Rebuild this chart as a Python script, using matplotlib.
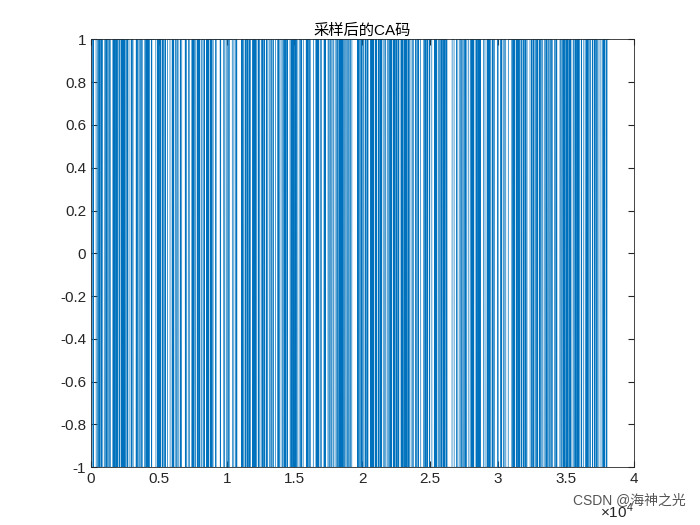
import matplotlib
matplotlib.use("Agg")
import matplotlib.pyplot as plt
import numpy as np

plt.rcParams["font.family"] = ["Liberation Sans", "Noto Sans CJK SC", "DejaVu Sans"]
plt.rcParams["mathtext.fontset"] = "custom"
plt.rcParams["mathtext.rm"] = "Liberation Sans"

# GPS C/A code, PRN 1 (G2 taps 2 and 6), 1023 chips
prn_taps = (2, 6)
n_chips = 1023
# sampling: 38192 samples over one code period
n_samples = 38192

g1 = [1] * 10
g2 = [1] * 10
chips = []
for _ in range(n_chips):
    out = g1[9] ^ (g2[prn_taps[0] - 1] ^ g2[prn_taps[1] - 1])
    chips.append(1 - 2 * out)
    fb1 = g1[2] ^ g1[9]
    fb2 = g2[1] ^ g2[2] ^ g2[5] ^ g2[7] ^ g2[8] ^ g2[9]
    g1 = [fb1] + g1[:9]
    g2 = [fb2] + g2[:9]
chips = np.array(chips)

idx = (np.arange(n_samples) * n_chips // n_samples)
sampled = chips[idx]
x = np.arange(1, n_samples + 1)

fig = plt.figure(figsize=(7, 5.25), dpi=100)
ax = fig.add_axes([0.13, 0.11, 0.775, 0.815])
ax.plot(x, sampled, color="#0072BD", linewidth=0.5)
ax.set_xlim(0, 40000)
ax.set_ylim(-1, 1)
ax.set_xticks(np.arange(0, 40001, 5000))
ax.set_xticklabels(["0", "0.5", "1", "1.5", "2", "2.5", "3", "3.5", "4"])
ax.set_yticks(np.arange(-1, 1.01, 0.2))
ax.set_yticklabels(["-1", "-0.8", "-0.6", "-0.4", "-0.2", "0", "0.2", "0.4", "0.6", "0.8", "1"])
ax.tick_params(direction="in", top=True, right=True, labelsize=11, length=4, colors="#262626")
for s in ax.spines.values():
    s.set_color("#262626")
    s.set_linewidth(0.6)
ax.set_title("采样后的CA码", fontsize=11, pad=3)
fig.text(0.905, 0.045, r"$\times10^4$", fontsize=11, ha="right", va="top", color="#262626")
fig.text(0.98, 0.035, "CSDN @海神之光", fontsize=10, ha="right", va="bottom", color="#555555")
fig.savefig("out.png", dpi=100)
